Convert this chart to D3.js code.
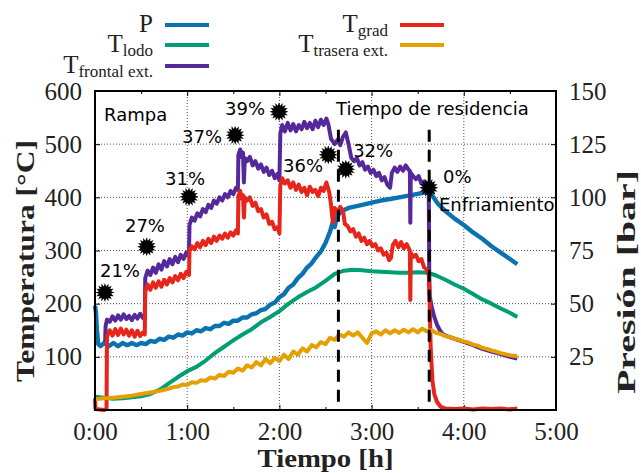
<!DOCTYPE html>
<html>
<head>
<meta charset="utf-8">
<script src="https://cdn.jsdelivr.net/npm/d3@7/dist/d3.min.js"></script>
<style>
  html, body { margin: 0; padding: 0; background: #fff; }
  svg { display: block; }
  .tick-lbl { font-family: "Liberation Serif", "Times New Roman", serif; font-size: 25px; fill: #222; }
  .ann { font-family: "DejaVu Sans", sans-serif; font-size: 18px; fill: #000; }
  .ttl { font-family: "Liberation Serif", serif; font-size: 26px; font-weight: bold; fill: #222; }
  .leg { font-family: "Liberation Serif", serif; font-size: 25px; fill: #222; }
  .leg-sub { font-size: 17px; }
</style>
</head>
<body>
<svg id="chart" width="641" height="473"></svg>
<script>
// ---- Series: [time in hours, value] ----
// Pressure (bar, right axis)
const presion = [[0,49],[0.01,46],[0.02,38],[0.035,31],[0.06,30],[0.1,31.5],[0.15,30],[0.2,31.5],[0.25,30],[0.3,31.5],[0.35,30.5],[0.4,31.5],[0.45,30.5],[0.5,31.5],[0.55,31],[0.6,32.5],[0.65,32],[0.7,33.5],[0.75,33],[0.8,34.5],[0.85,34],[0.9,35.5],[0.95,35],[1.0,36.5],[1.05,36],[1.1,37.5],[1.15,37],[1.2,38.5],[1.25,38],[1.3,39.5],[1.35,39.5],[1.4,41],[1.45,40.5],[1.5,42],[1.55,42],[1.6,43.5],[1.65,43.5],[1.7,45],[1.75,45.5],[1.8,47],[1.85,47.5],[1.9,49.5],[1.95,50.5],[2.0,53],[2.05,54.5],[2.1,57.5],[2.15,59],[2.2,62],[2.25,64],[2.3,67],[2.35,69],[2.4,72],[2.45,74.5],[2.5,78.5],[2.55,84],[2.58,88.5],[2.6,86],[2.62,90.5],[2.65,92.5],[2.7,94],[2.75,95],[2.8,95.5],[2.9,96.5],[3.0,97.5],[3.1,98.5],[3.2,99.2],[3.3,100],[3.4,100.8],[3.5,101.6],[3.6,102.5],[3.64,102],[3.68,99.5],[3.72,97],[3.8,93.5],[3.9,90],[4.0,87],[4.1,83.5],[4.2,80.5],[4.3,77],[4.4,74],[4.5,71],[4.58,68.5]];

// Sludge temperature (°C)
const tLodo = [[0,25],[0.1,23],[0.2,21],[0.3,22],[0.4,24],[0.5,26],[0.6,30],[0.7,38],[0.8,50],[0.9,62],[1.0,73],[1.1,81],[1.2,93],[1.3,107],[1.4,119],[1.5,131],[1.6,142],[1.7,152],[1.8,165],[1.9,175],[2.0,186],[2.1,200],[2.2,212],[2.3,222],[2.4,231],[2.5,243],[2.6,256],[2.7,262],[2.8,264],[2.9,263],[3.0,261],[3.1,260],[3.2,259],[3.3,258],[3.4,258],[3.5,259],[3.6,258],[3.65,256],[3.7,253],[3.8,245],[3.9,236],[4.0,228],[4.1,218],[4.2,208],[4.3,200],[4.4,191],[4.5,183],[4.58,175]];

// Front outer wall temperature (°C)
const tFrontal = [[0.11,128],[0.115,158],[0.13,170],[0.16,166],[0.19,176],[0.22,168],[0.25,178],[0.28,170],[0.31,180],[0.34,171],[0.37,177],[0.40,169],[0.43,179],[0.46,172],[0.49,181],[0.52,173],[0.54,176],
  [0.545,248],[0.57,262],[0.60,254],[0.63,268],[0.66,258],[0.69,274],[0.72,264],[0.75,280],[0.78,270],[0.81,284],[0.84,274],[0.87,288],[0.90,278],[0.93,292],[0.96,284],[0.99,296],[1.01,290],[1.02,300],
  [1.025,348],[1.05,362],[1.08,356],[1.11,370],[1.14,364],[1.17,378],[1.20,372],[1.23,386],[1.26,380],[1.29,394],[1.32,388],[1.35,400],[1.38,394],[1.41,406],[1.44,400],[1.47,412],[1.50,406],[1.53,418],[1.55,414],
  [1.555,480],[1.575,490],[1.59,476],[1.605,484],[1.615,428],[1.625,474],[1.65,468],[1.68,476],[1.71,460],[1.74,468],[1.77,454],[1.80,462],[1.83,448],[1.86,456],[1.89,442],[1.92,450],[1.95,436],[1.98,444],[2.0,432],
  [2.01,520],[2.03,536],[2.06,524],[2.09,540],[2.12,526],[2.15,538],[2.18,524],[2.21,536],[2.24,528],[2.27,542],[2.30,530],[2.33,540],[2.36,528],[2.39,544],[2.42,532],[2.45,546],[2.48,536],[2.51,548],[2.53,538],
  [2.56,510],[2.6,500],[2.63,508],[2.66,498],[2.69,514],[2.72,522],[2.75,500],[2.78,474],[2.81,468],[2.84,474],[2.87,460],[2.90,466],[2.93,452],[2.96,458],[2.99,446],[3.02,452],[3.05,440],[3.08,446],[3.11,432],[3.14,438],[3.17,424],[3.20,418],
  [3.22,446],[3.25,456],[3.28,448],[3.31,458],[3.34,450],[3.37,460],[3.40,452],[3.415,450],[3.42,352],[3.425,446],[3.45,440],[3.48,434],[3.51,440],[3.54,426],[3.57,430],[3.60,420],[3.62,416],
  [3.625,260],[3.63,215],[3.65,195],[3.68,175],[3.71,160],[3.74,150],[3.77,143],[3.8,140],[3.9,134],[4.0,128],[4.1,122],[4.2,115],[4.3,110],[4.4,105],[4.5,100],[4.58,97]];

// Gradient temperature (°C)
const tGrad = [[0,22],[0.005,2],[0.05,1],[0.1,0],[0.125,2],[0.13,138],[0.16,150],[0.19,140],[0.22,152],[0.25,141],[0.28,153],[0.31,142],[0.34,151],[0.37,140],[0.40,150],[0.43,138],[0.46,149],[0.49,139],[0.52,146],[0.54,142],
  [0.545,222],[0.57,236],[0.60,226],[0.63,240],[0.66,230],[0.69,242],[0.72,232],[0.75,245],[0.78,236],[0.81,248],[0.84,240],[0.87,252],[0.90,244],[0.93,256],[0.96,248],[0.99,260],[1.02,254],
  [1.025,300],[1.05,308],[1.08,302],[1.11,314],[1.14,306],[1.17,318],[1.20,310],[1.23,322],[1.26,314],[1.29,326],[1.32,318],[1.35,328],[1.38,322],[1.41,332],[1.44,324],[1.47,334],[1.50,328],[1.53,338],[1.55,332],
  [1.555,402],[1.575,412],[1.59,398],[1.605,404],[1.615,362],[1.625,400],[1.65,394],[1.68,400],[1.71,384],[1.74,390],[1.77,374],[1.80,378],[1.83,362],[1.86,368],[1.89,350],[1.92,354],[1.95,340],[1.98,344],[2.0,332],
  [2.01,422],[2.03,436],[2.06,426],[2.09,432],[2.12,418],[2.15,428],[2.18,414],[2.21,424],[2.24,410],[2.27,418],[2.30,404],[2.33,420],[2.36,410],[2.39,414],[2.42,402],[2.45,418],[2.48,412],[2.51,428],[2.54,410],
  [2.56,386],[2.58,352],[2.6,380],[2.63,372],[2.66,382],[2.69,374],[2.71,350],[2.74,346],[2.77,336],[2.80,340],[2.83,326],[2.86,332],[2.89,318],[2.92,324],[2.95,312],[2.98,318],[3.01,308],[3.04,312],[3.07,300],[3.10,304],[3.13,292],[3.16,296],[3.19,282],[3.21,286],
  [3.23,310],[3.26,318],[3.29,306],[3.32,316],[3.35,304],[3.38,312],[3.41,302],[3.415,300],[3.42,207],[3.425,296],[3.45,288],[3.48,292],[3.51,280],[3.54,284],[3.57,268],[3.60,264],[3.62,256],
  [3.63,200],[3.64,120],[3.66,55],[3.68,30],[3.71,15],[3.75,6],[3.8,3],[3.9,2],[4.0,3],[4.1,1],[4.2,3],[4.3,2],[4.4,3],[4.5,1],[4.58,3]];

// Rear outer wall temperature (°C)
const tTrasera = [[0,20],[0.1,22],[0.2,23],[0.3,25],[0.4,27],[0.5,30],[0.6,33],[0.7,36],[0.8,40],[0.85,43],[0.9,44],[0.95,48],[1.0,47],[1.05,52],[1.1,51],[1.15,56],[1.2,55],[1.25,61],[1.3,59],[1.35,66],[1.4,64],[1.45,72],[1.5,70],[1.55,78],[1.6,74],[1.65,84],[1.7,80],[1.75,90],[1.8,84],[1.85,96],[1.9,88],[1.95,98],[2.0,92],[2.05,104],[2.1,96],[2.15,110],[2.2,104],[2.25,116],[2.3,110],[2.35,122],[2.4,118],[2.45,128],[2.5,124],[2.55,136],[2.6,132],[2.65,142],[2.7,138],[2.75,146],[2.8,140],[2.85,146],[2.9,136],[2.95,126],[3.0,144],[3.05,148],[3.1,142],[3.15,150],[3.2,144],[3.25,150],[3.3,145],[3.35,151],[3.4,146],[3.45,152],[3.5,146],[3.55,153],[3.6,148],[3.65,150],[3.7,145],[3.75,143],[3.8,139],[3.85,137],[3.9,134],[3.95,132],[4.0,129],[4.05,127],[4.1,123],[4.15,121],[4.2,117],[4.25,115],[4.3,112],[4.35,110],[4.4,107],[4.45,105],[4.5,103],[4.58,101]];

// Solids-content markers: label, time (h), temperature (°C), label anchor (h, °C)
const marcas = [
  ["21%", 0.108, 221, 0.054, 250],
  ["27%", 0.561, 307, 0.325, 335],
  ["31%", 1.02, 401, 0.76, 423],
  ["37%", 1.52, 517, 0.944, 502],
  ["39%", 1.996, 561, 1.41, 555],
  ["36%", 2.53, 480, 2.04, 448],
  ["32%", 2.72, 453, 2.80, 476],
  ["0%", 3.62, 418, 3.774, 427]
];

// Phase boundaries (h) and phase labels
const limitesFase = [2.64, 3.625];
const textosFase = [["Rampa", 0.098, 543], ["Tiempo de residencia", 2.614, 555], ["Enfriamiento", 3.73, 374]];

// Ticks
const ticksX = [0, 1, 2, 3, 4, 5];
const ticksXMenores = [0.5, 1.5, 2.5, 3.5, 4.5];
const ticksT = [100, 200, 300, 400, 500, 600];
const ticksP = [25, 50, 75, 100, 125, 150];

const colores = { P: "#0a72b0", lodo: "#009e73", frontal: "#55299a", grad: "#e8251b", trasera: "#e69f00" };

// ---- Layout ----
const svg = d3.select("#chart");
const L = 95, R = 556, T = 91, B = 410;
const x = d3.scaleLinear([0, 5], [L, R]);
const yT = d3.scaleLinear([0, 600], [B, T]);
const yP = d3.scaleLinear([0, 150], [B, T]);

// Grid (dotted)
const grid = svg.append("g").attr("stroke", "#555").attr("stroke-width", 1).attr("stroke-dasharray", "1,2");
grid.selectAll("line.gx").data(ticksX.slice(1, -1)).join("line")
  .attr("x1", d => x(d)).attr("x2", d => x(d)).attr("y1", T).attr("y2", B);
grid.selectAll("line.gy").data(ticksT.slice(0, -1)).join("line")
  .attr("x1", L).attr("x2", R).attr("y1", d => yT(d)).attr("y2", d => yT(d));

// Axes with inward ticks
const fmtHora = d => d + ":00";
const ejeX = svg.append("g").attr("transform", `translate(0,${B})`)
  .call(d3.axisBottom(x).tickValues(ticksX).tickFormat(fmtHora).tickSizeInner(-5).tickSizeOuter(0).tickPadding(13));
const ejeXsup = svg.append("g").attr("transform", `translate(0,${T})`)
  .call(d3.axisTop(x).tickValues(ticksX).tickFormat("").tickSizeInner(-5).tickSizeOuter(0));
const ejeXmen = svg.append("g").attr("transform", `translate(0,${B})`)
  .call(d3.axisBottom(x).tickValues(ticksXMenores).tickFormat("").tickSizeInner(-3).tickSizeOuter(0));
const ejeXmenSup = svg.append("g").attr("transform", `translate(0,${T})`)
  .call(d3.axisTop(x).tickValues(ticksXMenores).tickFormat("").tickSizeInner(-3).tickSizeOuter(0));
const ejeY = svg.append("g").attr("transform", `translate(${L},0)`)
  .call(d3.axisLeft(yT).tickValues(ticksT).tickSizeInner(-5).tickSizeOuter(0).tickPadding(13));
const ejeY2 = svg.append("g").attr("transform", `translate(${R},0)`)
  .call(d3.axisRight(yP).tickValues(ticksP).tickSizeInner(-5).tickSizeOuter(0).tickPadding(13));

[ejeX, ejeXsup, ejeXmen, ejeXmenSup, ejeY, ejeY2].forEach(g => {
  g.select(".domain").remove();
  g.selectAll(".tick line").attr("stroke", "#000").attr("stroke-width", 1);
  g.selectAll("text").attr("class", "tick-lbl").attr("font-family", null).attr("font-size", null).attr("fill", null);
});
ejeX.selectAll("text").attr("dy", "0.66em");

// Data lines
const lineaT = d3.line().x(d => x(d[0])).y(d => yT(d[1]));
const lineaP = d3.line().x(d => x(d[0])).y(d => yP(d[1]));
const trazos = svg.append("g").attr("fill", "none").attr("stroke-width", 4).attr("stroke-linejoin", "round").attr("stroke-linecap", "butt");
trazos.append("path").attr("d", lineaP(presion)).attr("stroke", colores.P).attr("stroke-width", 4.4);
trazos.append("path").attr("d", lineaT(tLodo)).attr("stroke", colores.lodo);
trazos.append("path").attr("d", lineaT(tFrontal)).attr("stroke", colores.frontal);
trazos.append("path").attr("d", lineaT(tGrad)).attr("stroke", colores.grad);
trazos.append("path").attr("d", lineaT(tTrasera)).attr("stroke", colores.trasera);

// Phase boundaries
svg.append("g").selectAll("line").data(limitesFase).join("line")
  .attr("x1", d => x(d)).attr("x2", d => x(d))
  .attr("y1", yT(527)).attr("y2", yT(0))
  .attr("stroke", "#000").attr("stroke-width", 3).attr("stroke-dasharray", "12,8");

// Phase labels
svg.append("g").selectAll("text").data(textosFase).join("text")
  .attr("class", "ann").attr("x", d => x(d[1])).attr("y", d => yT(d[2])).text(d => d[0]);

// Starburst markers
const nPuntas = 16;
const verticesEstrella = d3.range(nPuntas * 2).map(i => [i * Math.PI / nPuntas, i % 2 ? 6.2 : 9.5]);
const estrella = d3.lineRadial().angle(d => d[0]).radius(d => d[1]).curve(d3.curveLinearClosed);
const gm = svg.append("g");
gm.selectAll("path").data(marcas).join("path")
  .attr("transform", d => `translate(${x(d[1])},${yT(d[2])})`)
  .attr("d", estrella(verticesEstrella)).attr("fill", "#000");
gm.selectAll("text").data(marcas).join("text")
  .attr("class", "ann").attr("x", d => x(d[3])).attr("y", d => yT(d[4])).text(d => d[0]);

// Frame
svg.append("rect").attr("x", L).attr("y", T).attr("width", R - L).attr("height", B - T)
  .attr("fill", "none").attr("stroke", "#000").attr("stroke-width", 2);

// Axis titles
svg.append("text").attr("class", "ttl").attr("text-anchor", "middle")
  .attr("x", (L + R) / 2).attr("y", 467).attr("textLength", 136).attr("lengthAdjust", "spacingAndGlyphs")
  .text("Tiempo [h]");
svg.append("text").attr("class", "ttl").attr("text-anchor", "middle")
  .attr("transform", `translate(34,261) rotate(-90)`).attr("textLength", 242).attr("lengthAdjust", "spacingAndGlyphs")
  .text("Temperatura [°C]");
svg.append("text").attr("class", "ttl").attr("text-anchor", "middle")
  .attr("transform", `translate(635,282) rotate(-90)`).attr("textLength", 224).attr("lengthAdjust", "spacingAndGlyphs")
  .text("Presión [bar]");

// Legend
const leyenda = [
  { base: "P", sub: "", color: colores.P, xr: 153, y: 32 },
  { base: "T", sub: "lodo", color: colores.lodo, xr: 153, y: 52 },
  { base: "T", sub: "frontal ext.", color: colores.frontal, xr: 153, y: 73 },
  { base: "T", sub: "grad", color: colores.grad, xr: 388, y: 32 },
  { base: "T", sub: "trasera ext.", color: colores.trasera, xr: 388, y: 52 }
];
const gl = svg.append("g");
leyenda.forEach(e => {
  const t = gl.append("text").attr("class", "leg").attr("text-anchor", "end").attr("x", e.xr).attr("y", e.y);
  t.append("tspan").text(e.base);
  if (e.sub) t.append("tspan").attr("class", "leg-sub").attr("dy", 4).text(e.sub);
  gl.append("line").attr("x1", e.xr + 12).attr("x2", e.xr + 56)
    .attr("y1", e.y - 7).attr("y2", e.y - 7)
    .attr("stroke", e.color).attr("stroke-width", 4);
});
</script>
</body>
</html>
